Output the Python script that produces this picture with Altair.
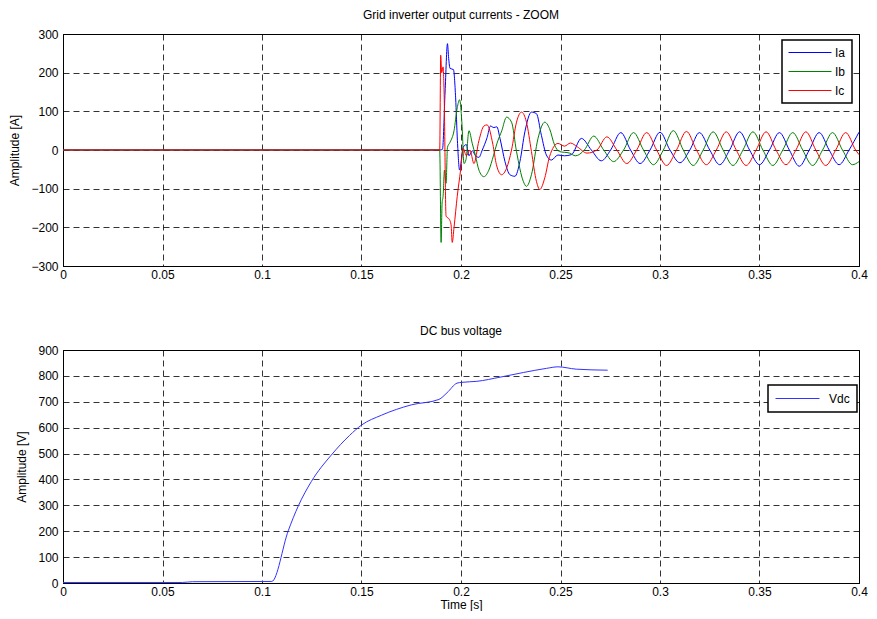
import altair as alt
import pandas as pd

# ---- data (time [s], value) ----
ia = [(0.0, 0), (0.1895, 0), (0.1907, 2), (0.1920, 150), (0.1932, 275), (0.1938, 237),
      (0.1945, 211), (0.1962, 208), (0.1973, 135), (0.1982, 24), (0.1993, -52), (0.2011, 7),
      (0.2027, 14), (0.2040, -15), (0.2057, -2), (0.2073, -15), (0.2090, -19), (0.2107, 0),
      (0.2131, 32), (0.2148, 62), (0.2165, 58), (0.2180, 60), (0.2196, 30), (0.2221, -30),
      (0.2246, -64), (0.2271, -68), (0.2296, -30), (0.2321, 47), (0.2354, 98), (0.2379, 94),
      (0.2404, 38), (0.2429, -13), (0.2454, -26), (0.2487, -13), (0.2520, -15), (0.2555, -12),
      (0.2605, 30), (0.2655, 0), (0.2705, -28), (0.2752, 0), (0.2803, 45), (0.2852, 0),
      (0.2900, -35), (0.2950, 0), (0.3000, 46), (0.3050, 0), (0.3100, -33), (0.3150, 0),
      (0.3198, 45), (0.3250, 0), (0.3300, -38), (0.3350, 0), (0.3400, 47), (0.3450, 0),
      (0.3500, -38), (0.3550, 0), (0.3600, 45), (0.3650, 0), (0.3700, -42), (0.3750, 0),
      (0.3800, 45), (0.3850, 0), (0.3900, -38), (0.3950, 0), (0.4000, 46)]

ib = [(0.0, 0), (0.1893, 0), (0.1900, -239), (0.1905, -137), (0.1910, -120), (0.1917, -52),
      (0.1925, -86), (0.1932, 7), (0.1945, 20), (0.1965, 50), (0.1981, 109), (0.1993, 130),
      (0.2005, 66), (0.2015, -35), (0.2025, -25), (0.2040, 50), (0.2057, 16), (0.2073, -15),
      (0.2090, -52), (0.2115, -69), (0.2140, -52), (0.2163, -15), (0.2180, 16), (0.2205, 50),
      (0.2229, 85), (0.2254, 72), (0.2279, -4), (0.2313, -81), (0.2329, -94), (0.2354, -64),
      (0.2387, 30), (0.2421, 72), (0.2445, 55), (0.2470, 13), (0.2495, -4), (0.2545, -8),
      (0.2575, -15), (0.2620, 0), (0.2667, 36), (0.2717, 0), (0.2767, -30), (0.2817, 0),
      (0.2867, 45), (0.2917, 0), (0.2967, -38), (0.3017, 0), (0.3067, 50), (0.3117, 0),
      (0.3167, -40), (0.3217, 0), (0.3267, 47), (0.3317, 0), (0.3367, -40), (0.3417, 0),
      (0.3467, 47), (0.3517, 0), (0.3567, -40), (0.3617, 0), (0.3667, 45), (0.3717, 0),
      (0.3767, -40), (0.3817, 0), (0.3867, 45), (0.3917, 0), (0.3967, -38), (0.4000, -30)]

ic = [(0.0, 0), (0.1893, 0), (0.1898, 245), (0.1903, 200), (0.1910, 215), (0.1915, 150),
      (0.1925, -171), (0.1942, -180), (0.1950, -193), (0.1956, -239), (0.1965, -200),
      (0.1981, -120), (0.1998, -52), (0.2011, 4), (0.2027, -15), (0.2045, 0), (0.2065, -35),
      (0.2090, 24), (0.2115, 62), (0.2131, 65), (0.2160, 15), (0.2178, -38), (0.2204, -64),
      (0.2229, -47), (0.2254, 0), (0.2279, 72), (0.2304, 98), (0.2329, 72), (0.2354, -4),
      (0.2379, -81), (0.2396, -102), (0.2421, -72), (0.2445, -17), (0.2487, 17), (0.2520, 10),
      (0.2550, 18), (0.2585, 8), (0.2633, -8), (0.2683, 0), (0.2733, 34), (0.2783, 0),
      (0.2833, -35), (0.2883, 0), (0.2933, 45), (0.2983, 0), (0.3033, -40), (0.3083, 0),
      (0.3133, 48), (0.3183, 0), (0.3233, -38), (0.3283, 0), (0.3333, 47), (0.3383, 0),
      (0.3433, -40), (0.3483, 0), (0.3533, 47), (0.3583, 0), (0.3633, -38), (0.3683, 0),
      (0.3733, 47), (0.3783, 0), (0.3833, -40), (0.3883, 0), (0.3933, 45), (0.3983, 0),
      (0.4000, -12)]

vdc = [(0.0, 2), (0.060, 2), (0.065, 5), (0.1049, 6), (0.1132, 202), (0.1182, 297),
       (0.1248, 392), (0.1348, 494), (0.1440, 570), (0.1500, 610), (0.1600, 648),
       (0.1750, 688), (0.1889, 709), (0.1930, 735), (0.1980, 772), (0.2003, 775),
       (0.2080, 779), (0.2196, 795), (0.2313, 813), (0.2429, 829), (0.2487, 835),
       (0.2579, 826), (0.2737, 822)]

x_ticks = [0, 0.05, 0.1, 0.15, 0.2, 0.25, 0.3, 0.35, 0.4]
ya_ticks = [-300, -200, -100, 0, 100, 200, 300]
yv_ticks = [0, 100, 200, 300, 400, 500, 600, 700, 800, 900]

FONT = "Liberation Sans Narrow, Liberation Sans, Arial"
W = 796


def frame(name, pairs):
    return pd.DataFrame({"t": [p[0] for p in pairs], "v": [p[1] for p in pairs], "series": name})


color_top = alt.Color(
    "series:N",
    scale=alt.Scale(domain=["Ia", "Ib", "Ic"], range=["#0000FF", "#008000", "#FF0000"]),
    legend=alt.Legend(title=None, orient="none", legendX=719, legendY=6,
                      symbolSize=1849, clipHeight=13, rowPadding=6, padding=6, labelOffset=3),
)

x_top = alt.X("t:Q", scale=alt.Scale(domain=[0, 0.4], nice=False),
              axis=alt.Axis(values=x_ticks, format="~g", title=None, labelFlush=False))
y_top = alt.Y("v:Q", scale=alt.Scale(domain=[-300, 300], nice=False),
              axis=alt.Axis(values=ya_ticks, title="Amplitude [A]"))


def phase(name, pairs):
    return alt.Chart(frame(name, pairs)).mark_line(strokeWidth=1, interpolate="monotone").encode(
        x=x_top, y=y_top, color=color_top)


top = alt.layer(phase("Ia", ia), phase("Ib", ib), phase("Ic", ic)).properties(
    width=W, height=232, title="Grid inverter output currents - ZOOM")

bottom = alt.Chart(frame("Vdc", vdc)).mark_line(strokeWidth=1, interpolate="monotone").encode(
    x=alt.X("t:Q", scale=alt.Scale(domain=[0, 0.4], nice=False),
            axis=alt.Axis(values=x_ticks, format="~g", title="Time [s]", labelFlush=False,
                          titlePadding=2)),
    y=alt.Y("v:Q", scale=alt.Scale(domain=[0, 900], nice=False),
            axis=alt.Axis(values=yv_ticks, title="Amplitude [V]")),
    color=alt.Color("series:N", scale=alt.Scale(domain=["Vdc"], range=["#3333FF"]),
                    legend=alt.Legend(title=None, orient="none", legendX=705, legendY=35,
                                      symbolSize=1936, clipHeight=13, padding=7, labelOffset=9)),
).properties(width=W, height=233, title="DC bus voltage")

chart = alt.vconcat(top, bottom, spacing=43).resolve_scale(color="independent").resolve_legend(
    color="independent"
).properties(
    padding={"left": 0, "right": 0, "top": 0, "bottom": 0}
).configure_view(stroke="black", strokeWidth=1).configure_axis(
    labelFont=FONT, titleFont=FONT, labelFontSize=12, titleFontSize=12,
    titleFontWeight="normal", labelColor="black", titleColor="black",
    gridColor="black", gridDash=[6, 4], gridOpacity=0.8, gridWidth=1,
    ticks=False, domainColor="black", labelPadding=3, titlePadding=6,
).configure_axisY(
    labelPadding=5, titlePadding=9
).configure_title(
    font=FONT, fontSize=12, fontWeight="normal", color="black", offset=6
).configure_legend(
    labelFont=FONT, labelFontSize=12, labelColor="black", strokeColor="black",
    fillColor="white", symbolType="stroke", symbolStrokeWidth=1, strokeWidth=1.5,
)

chart.save("out.html", embed_options={"renderer": "svg", "actions": False})
